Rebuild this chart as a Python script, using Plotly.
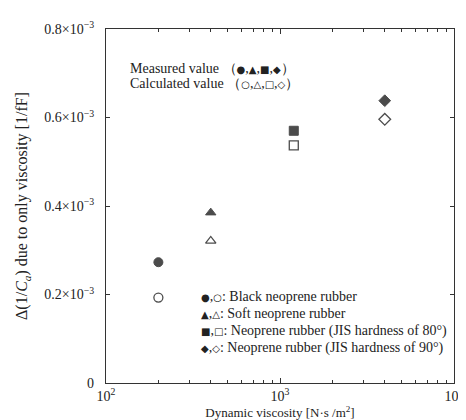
import plotly.graph_objects as go

# ---- data ----
viscosity = [200, 400, 1200, 4000]          # N·s/m^2
measured = [0.273e-3, 0.385e-3, 0.570e-3, 0.638e-3]
calculated = [0.193e-3, 0.321e-3, 0.537e-3, 0.596e-3]
materials = ["Black neoprene rubber", "Soft neoprene rubber",
             "Neoprene rubber (JIS hardness of 80°)",
             "Neoprene rubber (JIS hardness of 90°)"]
filled_sym = ["●", "▲", "■", "◆"]
open_sym = ["○", "△", "□", "◇"]
plot_symbols = ["circle", "triangle-up", "square", "diamond"]
marker_sizes = [9, 9, 9, 9]

y_tickvals = [0, 0.2e-3, 0.4e-3, 0.6e-3, 0.8e-3]
y_ticktext = ["0", "0.2×10<sup>−3</sup>", "0.4×10<sup>−3</sup>",
              "0.6×10<sup>−3</sup>", "0.8×10<sup>−3</sup>"]
x_tickvals = [100, 1000, 10000]
x_ticktext = ["10<sup>2</sup>", "10<sup>3</sup>", "10<sup>4</sup>"]
x_minor = [200, 300, 400, 500, 600, 700, 800, 900,
           2000, 3000, 4000, 5000, 6000, 7000, 8000, 9000]

FONT = "Liberation Serif, Times New Roman, serif"
SYMFONT = "DejaVu Sans"
INK = "#222222"

fig = go.Figure()
fig.add_trace(go.Scatter(
    x=viscosity, y=measured, mode="markers", name="Measured value",
    marker=dict(symbol=plot_symbols, size=marker_sizes, color="black",
                line=dict(color="black", width=1)),
    showlegend=False))
fig.add_trace(go.Scatter(
    x=viscosity, y=calculated, mode="markers", name="Calculated value",
    marker=dict(symbol=[s + "-open" for s in plot_symbols], size=marker_sizes,
                color="black", line=dict(color="black", width=1.3)),
    showlegend=False))

L, R, T, B = 98, 10, 21, 45
W, H = 466, 420
pw, ph = W - L - R, H - T - B

def px(xpix):
    return (xpix - L) / pw

def py(ypix):
    return (H - B - ypix) / ph

def sym(s):
    return f'<span style="font-family:{SYMFONT};font-size:10px">{s}</span>'

def symlist(lst):
    return ",".join(sym(s) for s in lst)

ann = [
    dict(text="Measured value （" + symlist(filled_sym) + "）", x=px(121), y=py(61)),
    dict(text="Calculated value （" + symlist(open_sym) + "）", x=px(121), y=py(76)),
]
for i, (m, f, o) in enumerate(zip(materials, filled_sym, open_sym)):
    ann.append(dict(text=f"{sym(f)},{sym(o)}: {m}", x=px(194), y=py(288 + 17.3 * i)))

for a in ann:
    fig.add_annotation(text=a["text"], x=a["x"], y=a["y"], xref="paper", yref="paper",
                       xanchor="left", yanchor="middle", showarrow=False,
                       font=dict(family=FONT, size=14, color=INK))

axis_common = dict(showline=True, linecolor="#333333", linewidth=1.2, mirror="ticks",
                   ticks="inside", tickcolor="#333333", showgrid=False, zeroline=False,
                   tickfont=dict(family=FONT, size=14, color=INK))

fig.update_xaxes(type="log", range=[2, 4], tickvals=x_tickvals, ticktext=x_ticktext,
                 ticklen=5, tickwidth=1.2,
                 minor=dict(tickvals=x_minor, ticks="inside", ticklen=3,
                            tickcolor="#333333", showgrid=False),
                 title=dict(text="Dynamic viscosity [N·s /m<sup>2</sup>]",
                            font=dict(family=FONT, size=13, color=INK), standoff=1),
                 **axis_common)
fig.update_yaxes(range=[0, 0.8e-3], tickvals=y_tickvals, ticktext=y_ticktext,
                 ticklen=4, tickwidth=1.2, ticklabelstandoff=8,
                 title=dict(text="Δ(1/<i>C</i><sub><i>a</i></sub>) due to only viscosity [1/fF]",
                            font=dict(family=FONT, size=16, color=INK), standoff=12),
                 **axis_common)

fig.update_layout(width=W, height=H, margin=dict(l=L, r=R, t=T, b=B),
                  paper_bgcolor="white", plot_bgcolor="white",
                  font=dict(family=FONT, color=INK))

fig.write_html("out.html")
